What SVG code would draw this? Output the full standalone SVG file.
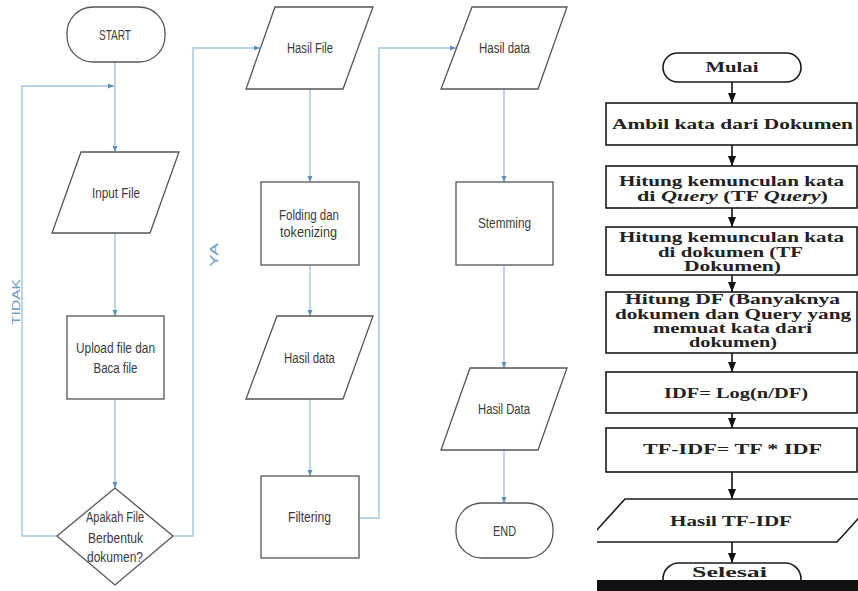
<svg xmlns="http://www.w3.org/2000/svg" width="858" height="591" viewBox="0 0 858 591">
<style>
.sh{fill:#fff;stroke:#555;stroke-width:1.3}
.lt{font-family:"Liberation Sans",Arial,sans-serif;font-size:15.5px;fill:#3a3a3a;text-anchor:middle}
.lbl{font-family:"Liberation Sans",Arial,sans-serif;font-size:11px;fill:#6a9cc7;text-anchor:middle}
.cn{fill:none;stroke:#a3c4dd;stroke-width:1.4}
.rs{fill:#fff;stroke:#1a1a1a;stroke-width:1.6}
.rt{font-family:"Liberation Serif","Times New Roman",serif;font-size:14px;font-weight:bold;fill:#222;text-anchor:middle}
.rc{fill:none;stroke:#111;stroke-width:1.6}
</style>
<defs>
<marker id="ab" viewBox="0 0 6 6" refX="6" refY="3" markerWidth="6" markerHeight="6" markerUnits="userSpaceOnUse" orient="auto"><path d="M0,0.5 L6,3 L0,5.5z" fill="#5f8fb8"/></marker>
<marker id="ak" viewBox="0 0 10 8" refX="10" refY="4" markerWidth="10" markerHeight="8" markerUnits="userSpaceOnUse" orient="auto"><path d="M0,0 L10,4 L0,8z" fill="#111"/></marker>
<clipPath id="rp"><rect x="597" y="0" width="261" height="580"/></clipPath>
</defs>
<rect width="858" height="591" fill="#fff"/>

<g id="connectors-left">
<path class="cn" d="M115,62 V152" marker-end="url(#ab)"/>
<path class="cn" d="M57,536 H22 V86 H114" marker-end="url(#ab)"/>
<path class="cn" d="M115,233 V316" marker-end="url(#ab)"/>
<path class="cn" d="M115,399 V488" marker-end="url(#ab)"/>
<path class="cn" d="M173,536 H193 V48 H260" marker-end="url(#ab)"/>
<path class="cn" d="M310,89 V182" marker-end="url(#ab)"/>
<path class="cn" d="M310,265 V316" marker-end="url(#ab)"/>
<path class="cn" d="M310,399 V476" marker-end="url(#ab)"/>
<path class="cn" d="M359,518 H379 V48 H456" marker-end="url(#ab)"/>
<path class="cn" d="M504,89 V182" marker-end="url(#ab)"/>
<path class="cn" d="M504,265 V368" marker-end="url(#ab)"/>
<path class="cn" d="M504,450 V503" marker-end="url(#ab)"/>
<text class="lbl" transform="translate(20,302) rotate(-90)" textLength="46" lengthAdjust="spacingAndGlyphs">TIDAK</text>
<text class="lbl" transform="translate(218,255) rotate(-90)" textLength="24" lengthAdjust="spacingAndGlyphs">YA</text>
</g>

<g id="start"><rect class="sh" x="67" y="7" width="98" height="55" rx="26"/><text class="lt" x="115" y="40" textLength="32" lengthAdjust="spacingAndGlyphs">START</text></g>
<g id="input-file"><polygon class="sh" points="81,152 179,152 150,233 52,233"/><text class="lt" x="116" y="198" textLength="48" lengthAdjust="spacingAndGlyphs">Input File</text></g>
<g id="upload"><rect class="sh" x="67" y="316" width="97" height="83"/><text class="lt" x="115.5" y="353" textLength="79" lengthAdjust="spacingAndGlyphs">Upload file dan</text><text class="lt" x="115.5" y="373" textLength="44" lengthAdjust="spacingAndGlyphs">Baca file</text></g>
<g id="decision"><polygon class="sh" points="115,488 173,536 115,585 57,536"/><text class="lt" x="115" y="522" textLength="58" lengthAdjust="spacingAndGlyphs">Apakah File</text><text class="lt" x="115.5" y="543" textLength="55" lengthAdjust="spacingAndGlyphs">Berbentuk</text><text class="lt" x="115" y="562" textLength="56" lengthAdjust="spacingAndGlyphs">dokumen?</text></g>
<g id="hasil-file"><polygon class="sh" points="275,7 373,7 343,89 246,89"/><text class="lt" x="310" y="53" textLength="46" lengthAdjust="spacingAndGlyphs">Hasil File</text></g>
<g id="folding"><rect class="sh" x="261" y="182" width="98" height="83"/><text class="lt" x="309" y="220" textLength="60" lengthAdjust="spacingAndGlyphs">Folding dan</text><text class="lt" x="308.5" y="237" textLength="57" lengthAdjust="spacingAndGlyphs">tokenizing</text></g>
<g id="hasil-data-1"><polygon class="sh" points="277,316 373,316 343,399 246,399"/><text class="lt" x="309.5" y="363" textLength="51" lengthAdjust="spacingAndGlyphs">Hasil data</text></g>
<g id="filtering"><rect class="sh" x="261" y="476" width="98" height="82"/><text class="lt" x="309.5" y="522" textLength="43" lengthAdjust="spacingAndGlyphs">Filtering</text></g>
<g id="hasil-data-2"><polygon class="sh" points="472,7 567,7 538,89 441,89"/><text class="lt" x="504.5" y="53" textLength="51" lengthAdjust="spacingAndGlyphs">Hasil data</text></g>
<g id="stemming"><rect class="sh" x="456" y="182" width="97" height="83"/><text class="lt" x="504.5" y="228" textLength="53" lengthAdjust="spacingAndGlyphs">Stemming</text></g>
<g id="hasil-data-3"><polygon class="sh" points="470,368 567,368 538,450 441,450"/><text class="lt" x="504" y="414" textLength="52" lengthAdjust="spacingAndGlyphs">Hasil Data</text></g>
<g id="end"><rect class="sh" x="456" y="503" width="97" height="55" rx="26"/><text class="lt" x="504.5" y="536" textLength="23" lengthAdjust="spacingAndGlyphs">END</text></g>

<g id="connectors-right">
<path class="rc" d="M732,82 V103" marker-end="url(#ak)"/>
<path class="rc" d="M732,145 V166" marker-end="url(#ak)"/>
<path class="rc" d="M732,208 V227" marker-end="url(#ak)"/>
<path class="rc" d="M732,275 V292" marker-end="url(#ak)"/>
<path class="rc" d="M732,353 V372" marker-end="url(#ak)"/>
<path class="rc" d="M732,413 V428" marker-end="url(#ak)"/>
<path class="rc" d="M732,472 V499" marker-end="url(#ak)"/>
<path class="rc" d="M732,542 V563" marker-end="url(#ak)"/>
</g>

<g id="mulai"><rect class="rs" x="663" y="53" width="138" height="29" rx="14.5"/><text class="rt" x="732" y="72" textLength="53" lengthAdjust="spacingAndGlyphs">Mulai</text></g>
<g id="ambil"><rect class="rs" x="606" y="103" width="251" height="42"/><text class="rt" x="732.5" y="129" textLength="241" lengthAdjust="spacingAndGlyphs">Ambil kata dari Dokumen</text></g>
<g id="tf-query"><rect class="rs" x="606" y="166" width="251" height="42"/><text class="rt" x="731.5" y="186" textLength="225" lengthAdjust="spacingAndGlyphs">Hitung kemunculan kata</text><text class="rt" x="732.5" y="201" textLength="191" lengthAdjust="spacingAndGlyphs">di <tspan font-style="italic">Query</tspan> (TF <tspan font-style="italic">Query</tspan>)</text></g>
<g id="tf-dokumen"><rect class="rs" x="606" y="227" width="251" height="48"/><text class="rt" x="731.5" y="242" textLength="225" lengthAdjust="spacingAndGlyphs">Hitung kemunculan kata</text><text class="rt" x="730.5" y="257" textLength="145" lengthAdjust="spacingAndGlyphs">di dokumen (TF</text><text class="rt" x="732.5" y="271" textLength="97" lengthAdjust="spacingAndGlyphs">Dokumen)</text></g>
<g id="df"><rect class="rs" x="606" y="292" width="251" height="61"/><text class="rt" x="732.5" y="304" textLength="215" lengthAdjust="spacingAndGlyphs">Hitung DF (Banyaknya</text><text class="rt" x="733" y="319" textLength="236" lengthAdjust="spacingAndGlyphs">dokumen dan Query yang</text><text class="rt" x="732.5" y="333" textLength="159" lengthAdjust="spacingAndGlyphs">memuat kata dari</text><text class="rt" x="733" y="347" textLength="88" lengthAdjust="spacingAndGlyphs">dokumen)</text></g>
<g id="idf"><rect class="rs" x="606" y="372" width="251" height="41"/><text class="rt" x="736" y="398" textLength="144" lengthAdjust="spacingAndGlyphs">IDF= Log(n/DF)</text></g>
<g id="tfidf"><rect class="rs" x="606" y="428" width="251" height="44"/><text class="rt" x="732.5" y="454" textLength="179" lengthAdjust="spacingAndGlyphs">TF-IDF= TF * IDF</text></g>
<g id="hasil-tfidf"><polygon class="rs" clip-path="url(#rp)" points="625,499 876,499 837,542 586,542"/><text class="rt" x="731" y="526" textLength="122" lengthAdjust="spacingAndGlyphs">Hasil TF-IDF</text></g>
<g id="selesai"><rect class="rs" clip-path="url(#rp)" x="663" y="563" width="138" height="32" rx="16"/><text class="rt" x="729.5" y="577" textLength="75" lengthAdjust="spacingAndGlyphs">Selesai</text></g>
<rect x="597" y="580" width="261" height="11" fill="#111"/>
</svg>
